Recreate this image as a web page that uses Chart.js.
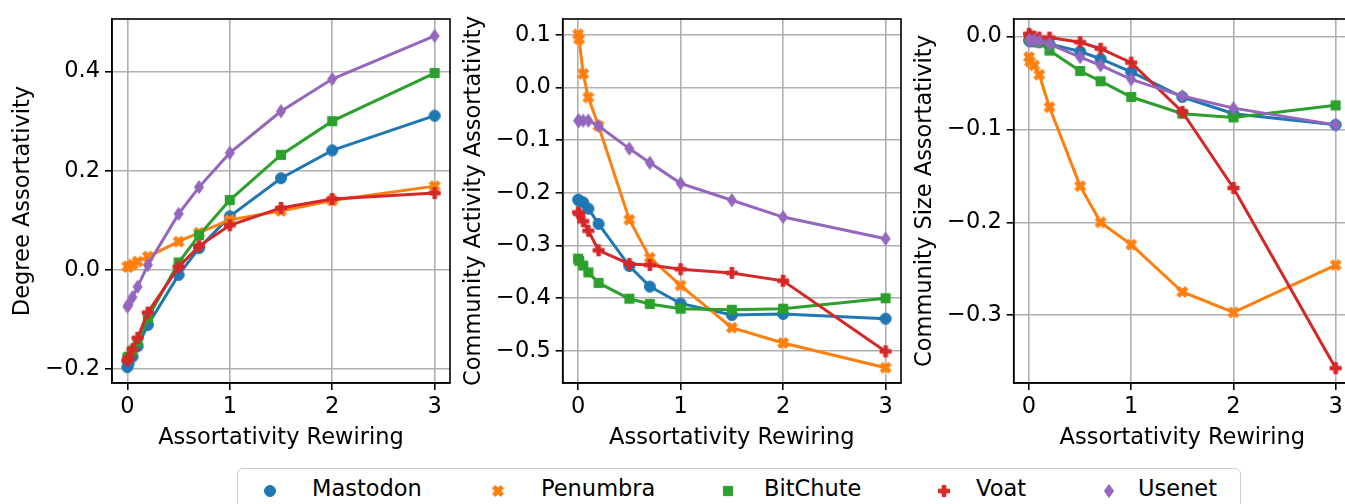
<!DOCTYPE html>
<html><head><meta charset="utf-8">
<script src="https://cdn.jsdelivr.net/npm/chart.js@4.4.1/dist/chart.umd.min.js"></script>
<style>
html,body{margin:0;padding:0;background:#fff;overflow:hidden;width:1345px;height:504px;position:relative;}
canvas.c{position:absolute;top:0;}
#legend{position:absolute;left:237px;top:468px;width:1004px;height:50px;border:1.5px solid #cccccc;border-radius:6px;box-sizing:border-box;}
.lt{position:absolute;font-family:'DejaVu Sans';font-size:22.5px;color:#000;line-height:27px;white-space:nowrap;}
.lm{position:absolute;}
</style></head><body>
<canvas id="c1" class="c" width="455" height="460" style="left:0px"></canvas>
<canvas id="c2" class="c" width="451" height="460" style="left:455px"></canvas>
<canvas id="c3" class="c" width="445" height="460" style="left:906px"></canvas>
<div id="legend"></div>
<script>
// ---------- data ----------
const rewiring = [0, 0.01, 0.05, 0.1, 0.2, 0.5, 0.7, 1, 1.5, 2, 3];
const seriesNames = ['Mastodon', 'Penumbra', 'BitChute', 'Voat', 'Usenet'];

// Degree Assortativity
const degMastodon = [-0.196, -0.190, -0.175, -0.154, -0.111, -0.010, 0.044, 0.108, 0.185, 0.241, 0.311];
const degPenumbra = [0.007, 0.006, 0.011, 0.017, 0.027, 0.057, 0.075, 0.101, 0.119, 0.140, 0.169];
const degBitChute = [-0.178, -0.175, -0.163, -0.145, -0.097, 0.015, 0.070, 0.141, 0.232, 0.300, 0.397];
const degVoat     = [-0.183, -0.178, -0.160, -0.137, -0.086, 0.006, 0.048, 0.090, 0.125, 0.143, 0.155];
const degUsenet   = [-0.074, -0.070, -0.055, -0.034, 0.010, 0.113, 0.167, 0.236, 0.320, 0.385, 0.472];

// Community Activity Assortativity
const actMastodon = [-0.213, -0.215, -0.218, -0.230, -0.259, -0.339, -0.378, -0.410, -0.432, -0.430, -0.439];
const actPenumbra = [0.101, 0.092, 0.026, -0.019, -0.073, -0.251, -0.323, -0.376, -0.456, -0.485, -0.532];
const actBitChute = [-0.325, -0.329, -0.338, -0.351, -0.371, -0.401, -0.411, -0.420, -0.422, -0.420, -0.400];
const actVoat     = [-0.237, -0.240, -0.254, -0.272, -0.309, -0.335, -0.337, -0.345, -0.352, -0.367, -0.501];
const actUsenet   = [-0.063, -0.063, -0.063, -0.063, -0.073, -0.116, -0.143, -0.182, -0.214, -0.246, -0.287];

// Community Size Assortativity
const sizeMastodon = [-0.004, -0.005, -0.005, -0.006, -0.008, -0.016, -0.024, -0.038, -0.065, -0.083, -0.095];
const sizePenumbra = [-0.022, -0.027, -0.031, -0.041, -0.076, -0.161, -0.200, -0.224, -0.275, -0.297, -0.246];
const sizeBitChute = [-0.001, -0.003, -0.004, -0.006, -0.015, -0.037, -0.048, -0.065, -0.083, -0.087, -0.074];
const sizeVoat     = [0.003, 0.001, 0.000, -0.001, -0.001, -0.006, -0.013, -0.028, -0.081, -0.163, -0.357];
const sizeUsenet   = [-0.004, -0.004, -0.004, -0.005, -0.008, -0.022, -0.031, -0.046, -0.064, -0.077, -0.095];

const xTicks = [0, 1, 2, 3];
const degTicks = [-0.2, 0.0, 0.2, 0.4];
const actTicks = [-0.5, -0.4, -0.3, -0.2, -0.1, 0.0, 0.1];
const sizeTicks = [-0.3, -0.2, -0.1, 0.0];

// ---------- styles ----------
const colors = ['#1f77b4', '#ff7f0e', '#2ca02c', '#d62728', '#9467bd'];
const shapes = ['circle', 'x', 'square', 'plus', 'diamond'];
const FONT = {family: 'DejaVu Sans', size: 22.5};

function marker(shape, color) {
  const s = 18;
  const c = document.createElement('canvas');
  c.width = s; c.height = s;
  const g = c.getContext('2d');
  g.translate(s / 2, s / 2);
  g.fillStyle = color; g.strokeStyle = color; g.lineWidth = 1; g.lineJoin = 'miter';
  g.beginPath();
  const poly = (pts, k) => { pts.forEach((p, i) => i ? g.lineTo(p[0] * k, p[1] * k) : g.moveTo(p[0] * k, p[1] * k)); g.closePath(); };
  if (shape === 'circle') g.arc(0, 0, 5.5, 0, Math.PI * 2);
  else if (shape === 'square') g.rect(-4.6, -4.6, 9.2, 9.2);
  else if (shape === 'x') poly([[-1,-2],[0,-1],[1,-2],[2,-1],[1,0],[2,1],[1,2],[0,1],[-1,2],[-2,1],[-1,0],[-2,-1]], 2.75);
  else if (shape === 'plus') poly([[-1,-3],[1,-3],[1,-1],[3,-1],[3,1],[1,1],[1,3],[-1,3],[-1,1],[-3,1],[-3,-1],[-1,-1]], 1.85);
  else if (shape === 'diamond') poly([[0,-6.5],[4.5,0],[0,6.5],[-4.5,0]], 1);
  g.fill(); g.stroke();
  return c;
}
const markers = shapes.map((s, i) => marker(s, colors[i]));

const framePlugin = {
  id: 'frame',
  afterDraw(chart) {
    const {ctx, chartArea: a} = chart;
    ctx.save();
    ctx.strokeStyle = '#000'; ctx.lineWidth = 1.6;
    ctx.strokeRect(a.left, a.top, a.right - a.left, a.bottom - a.top);
    ctx.restore();
  }
};

const fmtY = v => (v < 0 ? '\u2212' : '') + Math.abs(v).toFixed(1);

function makeChart(id, seriesArrays, yTitle, yMin, yMax, yTickVals, yAxisWidth, padRight, titlePad) {
  const datasets = seriesArrays.map((arr, i) => ({
    label: seriesNames[i],
    data: rewiring.map((x, k) => ({x: x, y: arr[k]})),
    borderColor: colors[i],
    backgroundColor: colors[i],
    borderWidth: 3,
    pointBorderWidth: 1,
    pointStyle: markers[i],
    pointRadius: 6,
    pointHoverRadius: 6,
    tension: 0,
    order: seriesArrays.length - i
  }));
  return new Chart(document.getElementById(id), {
    type: 'line',
    data: {datasets},
    plugins: [framePlugin],
    options: {
      responsive: false,
      animation: false,
      events: [],
      layout: {autoPadding: false, padding: {top: 19, right: padRight, left: 0, bottom: 0}},
      plugins: {legend: {display: false}, tooltip: {enabled: false}},
      scales: {
        x: {
          type: 'linear', min: -0.15, max: 3.15,
          afterBuildTicks: s => { s.ticks = xTicks.map(v => ({value: v})); },
          afterFit: s => { s.height = 77; s.paddingLeft = 0; s.paddingRight = 0; },
          grid: {color: '#b0b0b0', lineWidth: 1.6, tickColor: '#000', tickLength: 7, tickWidth: 1.6},
          border: {color: '#000', width: 1.6},
          ticks: {font: FONT, color: '#000', padding: 4, maxRotation: 0, callback: v => String(v)},
          title: {display: true, text: 'Assortativity Rewiring', font: FONT, color: '#000', padding: {top: 0, bottom: 8.5}}
        },
        y: {
          type: 'linear', min: yMin, max: yMax,
          afterBuildTicks: s => { s.ticks = yTickVals.map(v => ({value: v})); },
          afterFit: s => { s.width = yAxisWidth; s.paddingTop = 0; s.paddingBottom = 0; },
          grid: {color: '#b0b0b0', lineWidth: 1.6, tickColor: '#000', tickLength: 7, tickWidth: 1.6},
          border: {color: '#000', width: 1.6},
          ticks: {font: FONT, color: '#000', padding: 5, callback: v => fmtY(v)},
          title: {display: true, text: yTitle, font: FONT, color: '#000', padding: {top: titlePad, bottom: 0}}
        }
      }
    }
  });
}

makeChart('c1', [degMastodon, degPenumbra, degBitChute, degVoat, degUsenet], 'Degree Assortativity', -0.228, 0.506, degTicks, 112, 5, 9.5);
makeChart('c2', [actMastodon, actPenumbra, actBitChute, actVoat, actUsenet], 'Community Activity Assortativity', -0.561, 0.130, actTicks, 107.7, 5, 5.5);
makeChart('c3', [sizeMastodon, sizePenumbra, sizeBitChute, sizeVoat, sizeUsenet], 'Community Size Assortativity', -0.373, 0.019, sizeTicks, 107.7, 0, 5.5);

// ---------- legend ----------
const legMarkerX = [269, 497, 727, 943, 1108];
const legTextX = [311, 540, 763, 975, 1137];
const legend = document.getElementById('legend');
seriesNames.forEach((name, i) => {
  const m = marker(shapes[i], colors[i]);
  m.className = 'lm';
  m.style.left = (legMarkerX[i] - 237 - 9) + 'px';
  m.style.top = (490 - 468 - 9) + 'px';
  legend.appendChild(m);
  const t = document.createElement('span');
  t.className = 'lt';
  t.textContent = name;
  t.style.left = (legTextX[i] - 237) + 'px';
  t.style.top = (488 - 468 - 14) + 'px';
  legend.appendChild(t);
});
</script>
</body></html>
